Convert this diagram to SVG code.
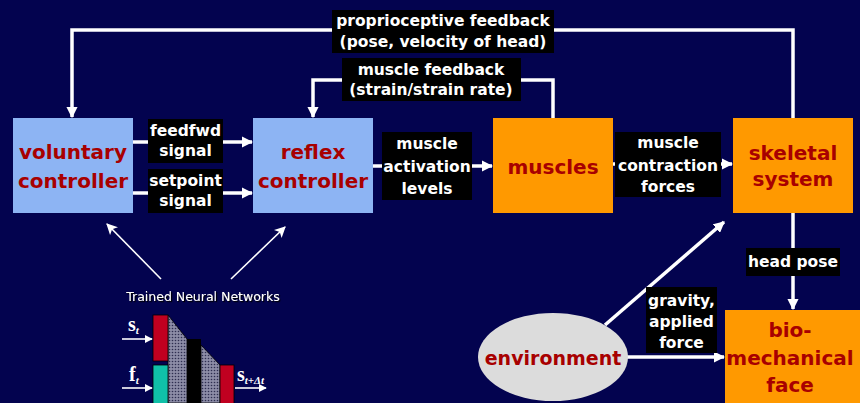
<svg xmlns="http://www.w3.org/2000/svg" width="860" height="403" viewBox="0 0 860 403">
  <style>
    .bg { fill: #03034F; }
    .ctl { fill: #8DB4F3; }
    .org { fill: #FF9900; }
    .env { fill: #DCDCDC; }
    .lbl { fill: #000000; }
    .nt { font-family: "DejaVu Sans", Verdana, sans-serif; font-weight: bold; fill: #A80000; text-anchor: middle; }
    .lt { font-family: "DejaVu Sans", Verdana, sans-serif; font-weight: bold; fill: #FFFFFF; text-anchor: middle; font-size: 15.5px; }
    .wire { fill: none; stroke: #FFFFFF; stroke-width: 3.5; }
    .thin { fill: none; stroke: #FFFFFF; stroke-width: 1.6; }
    .nn { font-family: "Liberation Serif", "Times New Roman", serif; font-weight: bold; fill: #FFFFFF; }
  </style>
  <defs>
    <marker id="ah" viewBox="0 0 10 10" refX="9" refY="5" markerWidth="3.2" markerHeight="3.2" markerUnits="strokeWidth" orient="auto">
      <path d="M0,0 L10,5 L0,10 Z" fill="#FFFFFF"/>
    </marker>
    <marker id="ahThin" viewBox="0 0 10 10" refX="9" refY="5" markerWidth="7" markerHeight="7" markerUnits="strokeWidth" orient="auto">
      <path d="M0,0 L10,5 L0,10 L2.5,5 Z" fill="#FFFFFF"/>
    </marker>
    <marker id="ahSmall" viewBox="0 0 10 10" refX="9" refY="5" markerWidth="5" markerHeight="5" markerUnits="strokeWidth" orient="auto">
      <path d="M0,0 L10,5 L0,10 Z" fill="#FFFFFF"/>
    </marker>
    <pattern id="dots" width="3" height="3" patternUnits="userSpaceOnUse">
      <rect width="3" height="3" fill="#8C8CA6"/>
      <circle cx="1.5" cy="1.5" r="0.8" fill="#2E2E50"/>
    </pattern>
    <filter id="shadow" x="-10%" y="-30%" width="120%" height="160%">
      <feDropShadow dx="1.2" dy="1.2" stdDeviation="0.3" flood-color="#000000"/>
    </filter>
  </defs>

  <rect class="bg" x="0" y="0" width="860" height="403"/>

  <!-- connectors -->
  <g id="connectors">
    <polyline class="wire" points="793,118 793,30 72,30 72,117" marker-end="url(#ah)"/>
    <polyline class="wire" points="553,118 553,80 313,80 313,117" marker-end="url(#ah)"/>
    <line class="wire" x1="133" y1="142" x2="252" y2="142" marker-end="url(#ah)"/>
    <line class="wire" x1="133" y1="193" x2="252" y2="193" marker-end="url(#ah)"/>
    <line class="wire" x1="373" y1="166" x2="492" y2="166" marker-end="url(#ah)"/>
    <line class="wire" x1="613" y1="164" x2="732" y2="164" marker-end="url(#ah)"/>
    <line class="wire" x1="793" y1="213" x2="793" y2="309" marker-end="url(#ah)"/>
    <line class="wire" x1="627" y1="357" x2="724" y2="357" marker-end="url(#ah)"/>
    <line class="wire" x1="605" y1="325" x2="724" y2="222" marker-end="url(#ah)"/>
    <line class="thin" x1="161" y1="279" x2="107" y2="224" marker-end="url(#ahThin)"/>
    <line class="thin" x1="231" y1="279" x2="285" y2="227" marker-end="url(#ahThin)"/>
  </g>

  <!-- edge labels -->
  <g id="label-proprio">
    <rect class="lbl" x="332" y="10" width="222" height="43"/>
    <text class="lt" x="443" y="26">proprioceptive feedback</text>
    <text class="lt" x="443" y="47">(pose, velocity of head)</text>
  </g>
  <g id="label-musclefb">
    <rect class="lbl" x="342" y="58" width="179" height="43"/>
    <text class="lt" x="431" y="75">muscle feedback</text>
    <text class="lt" x="431" y="95">(strain/strain rate)</text>
  </g>
  <g id="label-feedfwd">
    <rect class="lbl" x="148" y="119" width="75" height="44"/>
    <text class="lt" x="185.5" y="136">feedfwd</text>
    <text class="lt" x="185.5" y="156">signal</text>
  </g>
  <g id="label-setpoint">
    <rect class="lbl" x="148" y="169" width="75" height="44"/>
    <text class="lt" x="185.5" y="186">setpoint</text>
    <text class="lt" x="185.5" y="206">signal</text>
  </g>
  <g id="label-activation">
    <rect class="lbl" x="382" y="132" width="90" height="68"/>
    <text class="lt" x="427" y="149">muscle</text>
    <text class="lt" x="427" y="172">activation</text>
    <text class="lt" x="427" y="194">levels</text>
  </g>
  <g id="label-contraction">
    <rect class="lbl" x="615" y="132" width="106" height="65"/>
    <text class="lt" x="668" y="148">muscle</text>
    <text class="lt" x="668" y="171">contraction</text>
    <text class="lt" x="668" y="192">forces</text>
  </g>
  <g id="label-headpose">
    <rect class="lbl" x="746" y="248" width="94" height="28"/>
    <text class="lt" x="793" y="267">head pose</text>
  </g>
  <g id="label-gravity">
    <rect class="lbl" x="646" y="287" width="71" height="66"/>
    <text class="lt" x="681.5" y="306">gravity,</text>
    <text class="lt" x="681.5" y="327">applied</text>
    <text class="lt" x="681.5" y="348">force</text>
  </g>

  <!-- nodes -->
  <g id="voluntary-controller">
    <rect class="ctl" x="13" y="118" width="120" height="95"/>
    <text class="nt" x="73" y="159" font-size="20">voluntary</text>
    <text class="nt" x="73" y="188" font-size="20">controller</text>
  </g>
  <g id="reflex-controller">
    <rect class="ctl" x="253" y="118" width="120" height="95"/>
    <text class="nt" x="313" y="159" font-size="20">reflex</text>
    <text class="nt" x="313" y="188" font-size="20">controller</text>
  </g>
  <g id="muscles">
    <rect class="org" x="493" y="118" width="120" height="95"/>
    <text class="nt" x="553" y="174" font-size="20">muscles</text>
  </g>
  <g id="skeletal-system">
    <rect class="org" x="733" y="118" width="120" height="95"/>
    <text class="nt" x="793" y="160" font-size="20">skeletal</text>
    <text class="nt" x="793" y="186" font-size="20">system</text>
  </g>
  <g id="environment">
    <ellipse class="env" cx="553" cy="357" rx="75" ry="44"/>
    <text class="nt" x="553" y="365" font-size="19">environment</text>
  </g>
  <g id="biomechanical-face">
    <rect class="org" x="725" y="310" width="135" height="93"/>
    <text class="nt" x="790" y="337" font-size="20">bio-</text>
    <text class="nt" x="790" y="365" font-size="20">mechanical</text>
    <text class="nt" x="790" y="392" font-size="20">face</text>
  </g>

  <!-- neural network inset -->
  <g id="neural-networks">
    <text x="203" y="301" font-family="DejaVu Sans, Verdana, sans-serif" font-size="12.5" fill="#FFFFFF" text-anchor="middle" filter="url(#shadow)">Trained Neural Networks</text>
    <polygon points="168,315 187,339 187,403 168,403" fill="url(#dots)" stroke="#000000" stroke-width="0.8"/>
    <rect x="187" y="339" width="14" height="64" fill="#000000"/>
    <polygon points="201,345 220,365 220,403 201,403" fill="url(#dots)" stroke="#000000" stroke-width="0.8"/>
    <rect x="153" y="315" width="15" height="46" fill="#C00020" stroke="#000000" stroke-width="0.8"/>
    <rect x="153" y="365" width="15" height="40" fill="#10C0A8" stroke="#000000" stroke-width="0.8"/>
    <rect x="220" y="365" width="14" height="40" fill="#C00020" stroke="#000000" stroke-width="0.8"/>
    <line class="thin" x1="122" y1="339" x2="152" y2="339" marker-end="url(#ahSmall)"/>
    <line class="thin" x1="122" y1="388" x2="152" y2="388" marker-end="url(#ahSmall)"/>
    <line class="thin" x1="235" y1="388" x2="266" y2="388" marker-end="url(#ahSmall)"/>
    <text class="nn" x="128" y="331" font-size="20">s<tspan font-size="11" font-style="italic" dy="3">t</tspan></text>
    <text class="nn" x="129" y="381" font-size="20">f<tspan font-size="11" font-style="italic" dy="3">t</tspan></text>
    <text class="nn" x="237" y="381" font-size="20">s<tspan font-size="11" font-style="italic" dy="3">t+Δt</tspan></text>
  </g>
</svg>
